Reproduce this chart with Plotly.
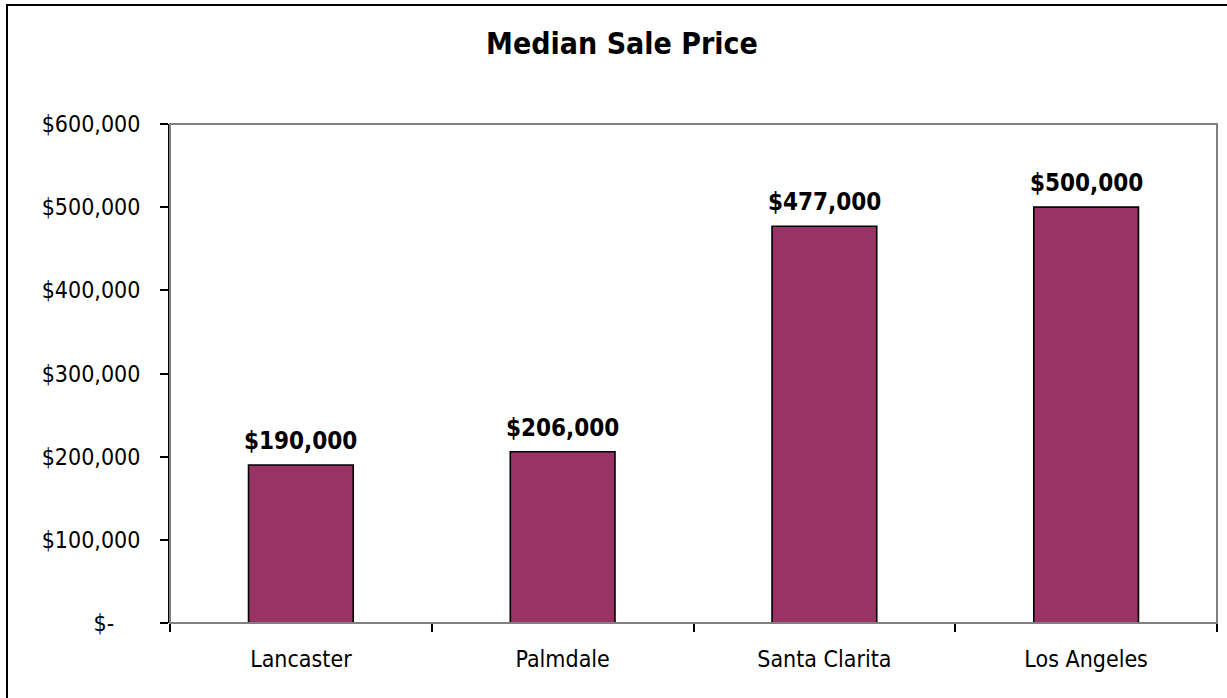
import plotly.graph_objects as go

# Median sale price by city
cities = ["Lancaster", "Palmdale", "Santa Clarita", "Los Angeles"]
median_price = [190000, 206000, 477000, 500000]

y_tick_vals = [0, 100000, 200000, 300000, 400000, 500000, 600000]
y_tick_text = ["$-" + "&nbsp;" * 4, "$100,000", "$200,000", "$300,000",
               "$400,000", "$500,000", "$600,000"]

W, H = 1227, 698
ML, MR, MT, MB = 170, 10, 124, 75
pw, ph = W - ML - MR, H - MT - MB

FONT = "DejaVu Sans Condensed, Tahoma, DejaVu Sans, sans-serif"

fig = go.Figure(
    go.Bar(
        x=cities,
        y=median_price,
        width=0.4,
        marker=dict(color="#993366", line=dict(color="#000000", width=1.6)),
        hoverinfo="skip",
    )
)

# value labels above each bar
for c, v in zip(cities, median_price):
    fig.add_annotation(
        x=c, y=v, text=f"<b>${v:,.0f}</b>", showarrow=False,
        yanchor="bottom", yshift=8,
        font=dict(family=FONT, size=24, color="#000000"),
    )

# plot area frame (grey) and chart-area frame (black)
fig.add_shape(type="rect", xref="paper", yref="paper", x0=0, x1=1, y0=0, y1=1,
              line=dict(color="#808080", width=2), layer="above")
fig.add_shape(type="rect", xref="paper", yref="paper",
              x0=(7 - ML) / pw, x1=(W + 20 - ML) / pw,
              y0=(MT + ph - (H + 20)) / ph, y1=(MT + ph - 5) / ph,
              line=dict(color="#000000", width=2))

fig.update_layout(
    width=W, height=H,
    margin=dict(l=ML, r=MR, t=MT, b=MB),
    paper_bgcolor="#ffffff", plot_bgcolor="#ffffff",
    showlegend=False,
    title=dict(text="<b>Median Sale Price</b>", x=(622 / W), xanchor="center",
               y=1 - 43 / H, yanchor="middle",
               font=dict(family=FONT, size=30, color="#000000")),
    font=dict(family=FONT, size=23, color="#000000"),
)

fig.update_xaxes(
    showline=False, showgrid=False, ticks="outside", ticklen=8, tickwidth=1.5,
    tickcolor="#000000", tickson="boundaries", ticklabelstandoff=20,
    tickfont=dict(family=FONT, size=23, color="#000000"), automargin=False,
)
fig.update_yaxes(
    range=[0, 600000], tickvals=y_tick_vals, ticktext=y_tick_text,
    showline=True, linecolor="#000000", linewidth=2, showgrid=False,
    ticks="outside", ticklen=8, tickwidth=1.5, tickcolor="#000000",
    ticklabelstandoff=15, zeroline=False,
    tickfont=dict(family=FONT, size=23, color="#000000"), automargin=False,
)

fig.write_html("out.html")
